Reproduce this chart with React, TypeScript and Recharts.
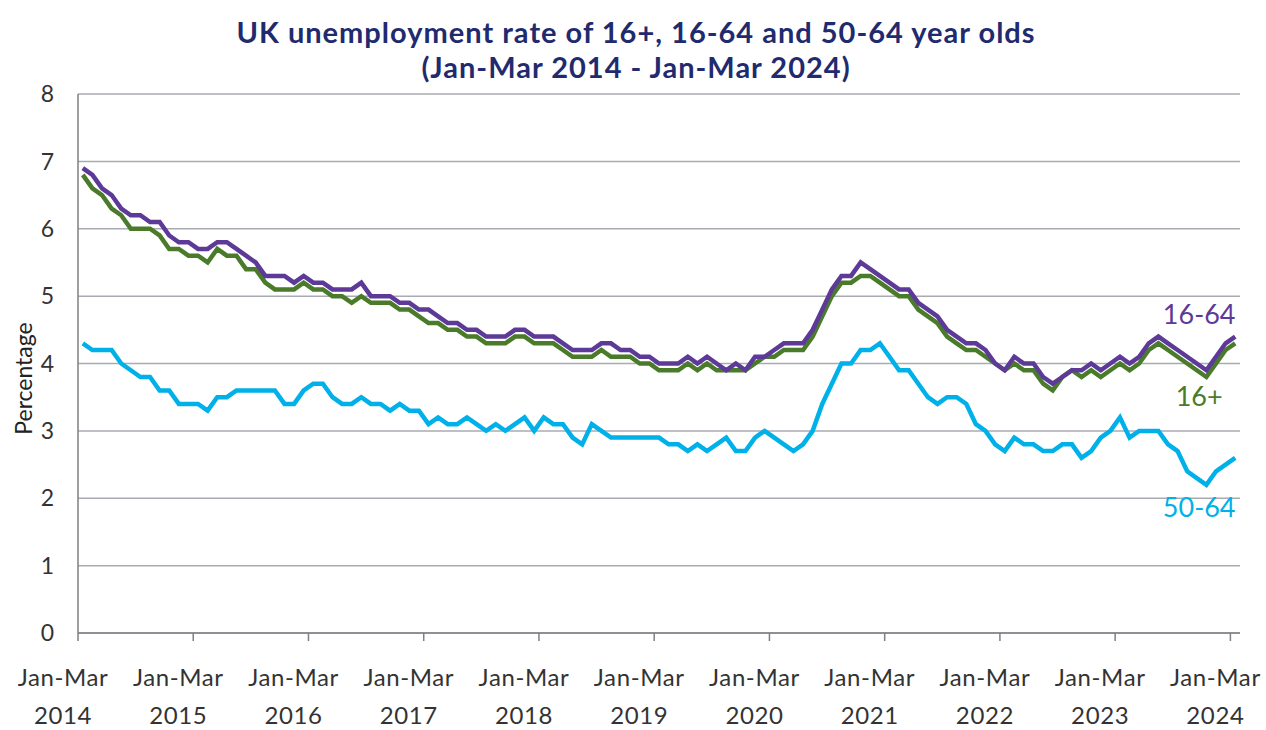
import { CartesianGrid, LabelList, Line, LineChart, XAxis, YAxis } from 'recharts';

// Rolling three-month periods, Jan-Mar 2014 through Jan-Mar 2024 (one value per month step)
const rate16to64 = [
  6.9, 6.8, 6.6, 6.5, 6.3, 6.2, 6.2, 6.1, 6.1, 5.9, 5.8, 5.8, 5.7, 5.7, 5.8, 5.8, 5.7, 5.6, 5.5, 5.3,
  5.3, 5.3, 5.2, 5.3, 5.2, 5.2, 5.1, 5.1, 5.1, 5.2, 5.0, 5.0, 5.0, 4.9, 4.9, 4.8, 4.8, 4.7, 4.6, 4.6,
  4.5, 4.5, 4.4, 4.4, 4.4, 4.5, 4.5, 4.4, 4.4, 4.4, 4.3, 4.2, 4.2, 4.2, 4.3, 4.3, 4.2, 4.2, 4.1, 4.1,
  4.0, 4.0, 4.0, 4.1, 4.0, 4.1, 4.0, 3.9, 4.0, 3.9, 4.1, 4.1, 4.2, 4.3, 4.3, 4.3, 4.5, 4.8, 5.1, 5.3,
  5.3, 5.5, 5.4, 5.3, 5.2, 5.1, 5.1, 4.9, 4.8, 4.7, 4.5, 4.4, 4.3, 4.3, 4.2, 4.0, 3.9, 4.1, 4.0, 4.0,
  3.8, 3.7, 3.8, 3.9, 3.9, 4.0, 3.9, 4.0, 4.1, 4.0, 4.1, 4.3, 4.4, 4.3, 4.2, 4.1, 4.0, 3.9, 4.1, 4.3, 4.4
];

const rate16plus = [
  6.8, 6.6, 6.5, 6.3, 6.2, 6.0, 6.0, 6.0, 5.9, 5.7, 5.7, 5.6, 5.6, 5.5, 5.7, 5.6, 5.6, 5.4, 5.4, 5.2,
  5.1, 5.1, 5.1, 5.2, 5.1, 5.1, 5.0, 5.0, 4.9, 5.0, 4.9, 4.9, 4.9, 4.8, 4.8, 4.7, 4.6, 4.6, 4.5, 4.5,
  4.4, 4.4, 4.3, 4.3, 4.3, 4.4, 4.4, 4.3, 4.3, 4.3, 4.2, 4.1, 4.1, 4.1, 4.2, 4.1, 4.1, 4.1, 4.0, 4.0,
  3.9, 3.9, 3.9, 4.0, 3.9, 4.0, 3.9, 3.9, 3.9, 3.9, 4.0, 4.1, 4.1, 4.2, 4.2, 4.2, 4.4, 4.7, 5.0, 5.2,
  5.2, 5.3, 5.3, 5.2, 5.1, 5.0, 5.0, 4.8, 4.7, 4.6, 4.4, 4.3, 4.2, 4.2, 4.1, 4.0, 3.9, 4.0, 3.9, 3.9,
  3.7, 3.6, 3.8, 3.9, 3.8, 3.9, 3.8, 3.9, 4.0, 3.9, 4.0, 4.2, 4.3, 4.2, 4.1, 4.0, 3.9, 3.8, 4.0, 4.2, 4.3
];

const rate50to64 = [
  4.3, 4.2, 4.2, 4.2, 4.0, 3.9, 3.8, 3.8, 3.6, 3.6, 3.4, 3.4, 3.4, 3.3, 3.5, 3.5, 3.6, 3.6, 3.6, 3.6,
  3.6, 3.4, 3.4, 3.6, 3.7, 3.7, 3.5, 3.4, 3.4, 3.5, 3.4, 3.4, 3.3, 3.4, 3.3, 3.3, 3.1, 3.2, 3.1, 3.1,
  3.2, 3.1, 3.0, 3.1, 3.0, 3.1, 3.2, 3.0, 3.2, 3.1, 3.1, 2.9, 2.8, 3.1, 3.0, 2.9, 2.9, 2.9, 2.9, 2.9,
  2.9, 2.8, 2.8, 2.7, 2.8, 2.7, 2.8, 2.9, 2.7, 2.7, 2.9, 3.0, 2.9, 2.8, 2.7, 2.8, 3.0, 3.4, 3.7, 4.0,
  4.0, 4.2, 4.2, 4.3, 4.1, 3.9, 3.9, 3.7, 3.5, 3.4, 3.5, 3.5, 3.4, 3.1, 3.0, 2.8, 2.7, 2.9, 2.8, 2.8,
  2.7, 2.7, 2.8, 2.8, 2.6, 2.7, 2.9, 3.0, 3.2, 2.9, 3.0, 3.0, 3.0, 2.8, 2.7, 2.4, 2.3, 2.2, 2.4, 2.5, 2.6
];

const tickYears = [2014, 2015, 2016, 2017, 2018, 2019, 2020, 2021, 2022, 2023, 2024];
const yTicks = [0, 1, 2, 3, 4, 5, 6, 7, 8];

const FONT = 'Lato, "Open Sans", sans-serif';
const COLORS = {
  age16to64: '#5E3A98',
  age16plus: '#4A7B2B',
  age50to64: '#00B1E9',
  title: '#1F2B6E',
  text: '#333333',
  grid: '#A9ABB3',
  axis: '#7F7F85'
};

// months since Jan 2014; each period is plotted mid-month
const data = rate16plus.map((v, i) => ({
  month: i + 0.5,
  age16plus: v,
  age16to64: rate16to64[i],
  age50to64: rate50to64[i]
}));
const lastIndex = data.length - 1;

const YearTick = ({ x, y, payload }: any) => (
  <g transform={`translate(${x - 15},${y})`}>
    <text textAnchor="middle" fill={COLORS.text} fontSize={24} letterSpacing={0.6} fontFamily={FONT}>
      <tspan x={0} dy={43}>Jan-Mar</tspan>
      <tspan x={0} dy={38}>{tickYears[0] + payload.value / 12}</tspan>
    </text>
  </g>
);

const endLabel = (text: string, color: string, dy: number) => (props: any) => {
  if (props.index !== lastIndex) return null;
  return (
    <text
      x={props.x - 36}
      y={props.y + dy}
      textAnchor="middle"
      fill={color}
      fontSize={27}
      fontFamily={FONT}
    >
      {text}
    </text>
  );
};

export default function App() {
  return (
    <div style={{ position: 'absolute', left: 0, top: 0, width: 1266, height: 730, background: '#fff' }}>
      <div
        style={{
          position: 'absolute',
          left: 0,
          top: 14,
          width: 1272,
          textAlign: 'center',
          fontFamily: FONT,
          fontWeight: 700,
          fontSize: 29,
          letterSpacing: 1,
          lineHeight: '35px',
          color: COLORS.title
        }}
      >
        UK unemployment rate of 16+, 16-64 and 50-64 year olds
        <br />
        (Jan-Mar 2014 - Jan-Mar 2024)
      </div>
      <LineChart
        width={1266}
        height={730}
        data={data}
        margin={{ top: 94, right: 26, left: 0, bottom: 0 }}
      >
        <CartesianGrid stroke={COLORS.grid} strokeWidth={1.5} vertical={false} />
        <XAxis
          type="number"
          dataKey="month"
          domain={[0, 121]}
          ticks={tickYears.map((yr) => (yr - tickYears[0]) * 12)}
          interval={0}
          tick={<YearTick />}
          tickSize={8}
          height={97}
          stroke={COLORS.axis}
          strokeWidth={1.5}
        />
        <YAxis
          domain={[0, 8]}
          ticks={yTicks}
          width={78}
          tickLine={false}
          stroke={COLORS.axis}
          strokeWidth={1.5}
          tick={{ fill: COLORS.text, fontSize: 23, fontFamily: FONT }}
          tickMargin={18}
          label={{
            value: 'Percentage',
            angle: -90,
            position: 'insideLeft',
            dx: 19,
            dy: 15,
            style: { fill: '#222', fontSize: 23, fontFamily: FONT, textAnchor: 'middle' }
          }}
        />
        <Line
          type="linear"
          dataKey="age50to64"
          stroke={COLORS.age50to64}
          strokeWidth={4.5}
          dot={false}
          isAnimationActive={false}
        >
          <LabelList dataKey="age50to64" content={endLabel('50-64', COLORS.age50to64, 59)} />
        </Line>
        <Line
          type="linear"
          dataKey="age16plus"
          stroke={COLORS.age16plus}
          strokeWidth={4.5}
          dot={false}
          isAnimationActive={false}
        >
          <LabelList dataKey="age16plus" content={endLabel('16+', COLORS.age16plus, 63)} />
        </Line>
        <Line
          type="linear"
          dataKey="age16to64"
          stroke={COLORS.age16to64}
          strokeWidth={4.5}
          dot={false}
          isAnimationActive={false}
        >
          <LabelList dataKey="age16to64" content={endLabel('16-64', COLORS.age16to64, -13)} />
        </Line>
      </LineChart>
    </div>
  );
}
